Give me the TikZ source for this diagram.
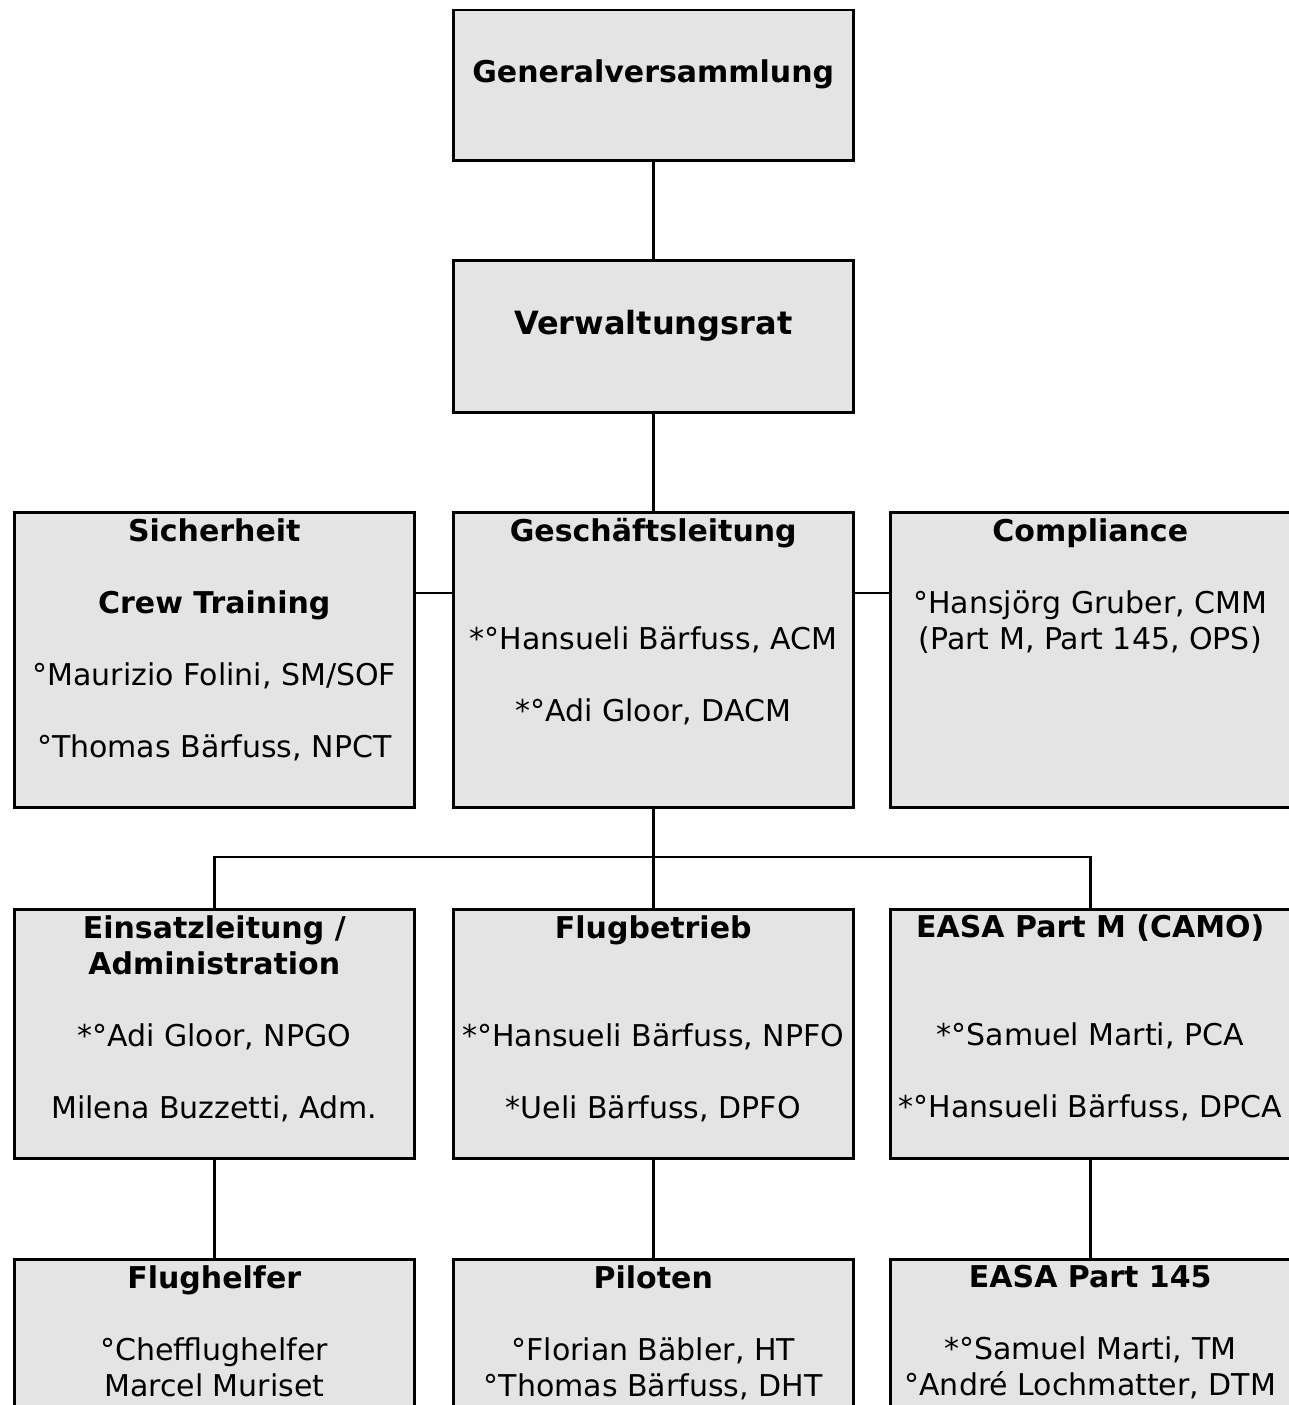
\documentclass[tikz,border=0pt]{standalone}
\usepackage{fontspec}
\setmainfont{DejaVu Sans}
\usetikzlibrary{positioning}

\definecolor{boxgray}{RGB}{228,228,228}

\begin{document}
\begin{tikzpicture}[x=1pt, y=-1pt,
    box/.style = {draw, line width=2.5pt, fill=boxgray, anchor=north west,
        inner sep=0pt, minimum width=400pt},
    txt/.style = {font=\fontsize{30}{36}\selectfont, align=center,
        inner sep=0pt, anchor=north},
    link/.style = {line width=2.5pt}]
    \useasboundingbox (0,0) rectangle (1288,1405);

    % boxes
    \node (gv) [box, minimum height=150pt] at (452,9) {};
    \node (vr) [box, minimum height=152pt] at (452,259) {};
    \node (sich) [box, minimum height=295pt] at (13,511) {};
    \node (gl) [box, minimum height=295pt] at (452,511) {};
    \node (comp) [box, minimum height=295pt] at (889,511) {};
    \node (einsatz) [box, minimum height=249pt] at (13,908) {};
    \node (flug) [box, minimum height=249pt] at (452,908) {};
    \node (camo) [box, minimum height=249pt] at (889,908) {};
    \node (helfer) [box, minimum height=249pt] at (13,1258) {};
    \node (piloten) [box, minimum height=249pt] at (452,1258) {};
    \node (part145) [box, minimum height=249pt] at (889,1258) {};

    % texts
    \node (gvtext) [txt, below=51pt of gv.north] {\textbf{Generalversammlung}};
    \node (vrtext) [txt, below=51pt of vr.north,
        font=\fontsize{32}{38}\selectfont] {\textbf{Verwaltungsrat}};
    \node (sichtext) [txt, below=7pt of sich.north]
        {\textbf{Sicherheit}\\[36pt]\textbf{Crew Training}\\[36pt]
         °Maurizio Folini, SM/SOF\\[36pt]°Thomas Bärfuss, NPCT};
    \node (gltext) [txt, below=7pt of gl.north]
        {\textbf{Geschäftsleitung}\\[72pt]*°Hansueli Bärfuss, ACM\\[36pt]
         *°Adi Gloor, DACM};
    \node (comptext) [txt, below=7pt of comp.north]
        {\textbf{Compliance}\\[36pt]°Hansjörg Gruber, CMM\\
         (Part M, Part 145, OPS)};
    \node (einsatztext) [txt, below=7pt of einsatz.north]
        {\textbf{Einsatzleitung /}\\\textbf{Administration}\\[36pt]
         *°Adi Gloor, NPGO\\[36pt]Milena Buzzetti, Adm.};
    \node (flugtext) [txt, below=7pt of flug.north]
        {\textbf{Flugbetrieb}\\[72pt]*°Hansueli Bärfuss, NPFO\\[36pt]
         *Ueli Bärfuss, DPFO};
    \node (camotext) [txt, below=7pt of camo.north]
        {\textbf{EASA Part M (CAMO)}\\[72pt]*°Samuel Marti, PCA\\[36pt]
         *°Hansueli Bärfuss, DPCA};
    \node (helfertext) [txt, below=7pt of helfer.north]
        {\textbf{Flughelfer}\\[36pt]°Chefflughelfer\\Marcel Muriset};
    \node (pilotentext) [txt, below=7pt of piloten.north]
        {\textbf{Piloten}\\[36pt]°Florian Bäbler, HT\\°Thomas Bärfuss, DHT};
    \node (part145text) [txt, below=7pt of part145.north]
        {\textbf{EASA Part 145}\\[36pt]*°Samuel Marti, TM\\
         °André Lochmatter, DTM};

    % connectors
    \coordinate (split) at (652,857);
    \draw [link] (gv.south) -- (vr.north);
    \draw [link] (vr.south) -- (gl.north);
    \draw [link] (sich.east |- 0,593) -- (gl.west |- 0,593);
    \draw [link] (gl.east |- 0,593) -- (comp.west |- 0,593);
    \draw [link] (gl.south) -- (flug.north);
    \draw [link] (einsatz.north) |- (split) -| (camo.north);
    \draw [link] (einsatz.south) -- (helfer.north);
    \draw [link] (flug.south) -- (piloten.north);
    \draw [link] (camo.south) -- (part145.north);
\end{tikzpicture}
\end{document}
